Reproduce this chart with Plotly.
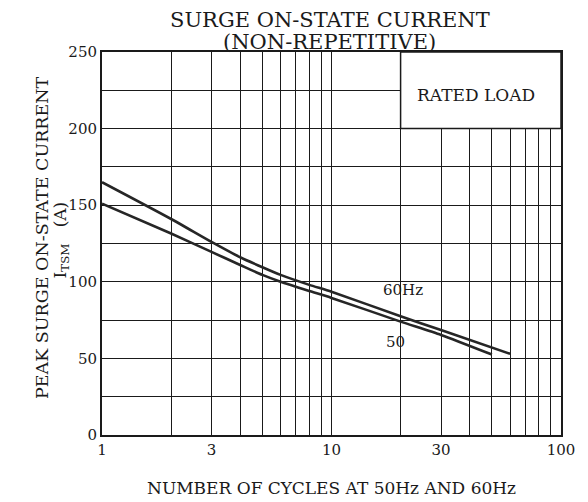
import plotly.graph_objects as go

# Data
cycles_60 = [1, 2, 3, 4, 5, 6, 8, 10, 20, 30, 60]
itsm_60 = [165, 141, 126, 116, 109.5, 104.5, 98, 93.5, 77.5, 68.5, 53]
cycles_50 = [1, 2, 3, 4, 5, 6, 8, 10, 20, 30, 50]
itsm_50 = [151, 131.5, 119.5, 111, 104.5, 100, 94, 89.5, 74, 65.3, 52.5]

x_major = [1, 3, 10, 30, 100]
x_minor = [2, 4, 5, 6, 7, 8, 9, 20, 40, 50, 60, 70, 80, 90]
y_ticks = [0, 50, 100, 150, 200, 250]

FONT = "DejaVu Serif"
INK = "#1a1a1a"

fig = go.Figure()
for xs, ys in [(cycles_60, itsm_60), (cycles_50, itsm_50)]:
    fig.add_trace(go.Scatter(x=xs, y=ys, mode="lines",
                             line=dict(color="#262626", width=2.6, shape="spline", smoothing=0.6),
                             showlegend=False, hoverinfo="skip"))

# RATED LOAD box (hides grid inside)
fig.add_shape(type="rect", xref="x", yref="y", x0=20, x1=100, y0=200, y1=250,
              fillcolor="white", line=dict(color=INK, width=1.5), layer="above")

fig.add_annotation(x=1.628, y=222, xref="x", yref="y", text="RATED LOAD",
                   showarrow=False, font=dict(family=FONT, size=17, color=INK))
fig.add_annotation(x=1.31, y=94.6, xref="x", yref="y", text="60Hz",
                   showarrow=False, font=dict(family=FONT, size=15, color=INK))
fig.add_annotation(x=1.279, y=61, xref="x", yref="y", text="50",
                   showarrow=False, font=dict(family=FONT, size=15, color=INK))

# Title (two separate lines)
fig.add_annotation(xref="paper", yref="paper", x=0.496, y=1 + 32 / 383, yanchor="middle",
                   text="SURGE ON-STATE CURRENT", showarrow=False,
                   font=dict(family=FONT, size=21, color=INK))
fig.add_annotation(xref="paper", yref="paper", x=0.496, y=1 + 10.5 / 383, yanchor="middle",
                   text="(NON-REPETITIVE)", showarrow=False,
                   font=dict(family=FONT, size=21, color=INK))

# Y axis titles
fig.add_annotation(xref="paper", yref="paper", x=0, xshift=-72, y=(435 - 238) / 383,
                   text="PEAK SURGE ON-STATE CURRENT", textangle=-90, showarrow=False,
                   font=dict(family=FONT, size=17.5, color=INK))
fig.add_annotation(xref="paper", yref="paper", x=0, xshift=-55, y=(435 - 240) / 383,
                   text="I<sub>TSM</sub>   (A)", textangle=-90, showarrow=False,
                   font=dict(family=FONT, size=17, color=INK))

# X axis title
fig.add_annotation(xref="paper", yref="paper", x=0.5, y=-(488 - 435) / 383, yanchor="middle",
                   text="NUMBER OF CYCLES AT 50Hz AND 60Hz", showarrow=False,
                   font=dict(family=FONT, size=17, color=INK))

# The page body adds an 8px offset, so the figure is 8px smaller and margins compensate
fig.update_layout(
    width=580, height=494,
    margin=dict(l=94, r=27, t=44, b=67),
    paper_bgcolor="white", plot_bgcolor="white",
    font=dict(family=FONT, color=INK),
    xaxis=dict(
        type="log", range=[0, 2], automargin=False,
        tickvals=x_major, ticktext=[str(v) for v in x_major],
        tickfont=dict(family=FONT, size=15, color=INK),
        showgrid=True, gridcolor=INK, gridwidth=1.2,
        minor=dict(tickvals=x_minor, showgrid=True, gridcolor=INK, gridwidth=1.2, ticks=""),
        showline=True, linecolor=INK, linewidth=2, mirror=True,
        ticks="", zeroline=False,
    ),
    yaxis=dict(
        range=[0, 250], tickvals=y_ticks, automargin=False,
        tickfont=dict(family=FONT, size=15, color=INK),
        showgrid=True, gridcolor=INK, gridwidth=1.2,
        minor=dict(dtick=25, showgrid=True, gridcolor=INK, gridwidth=1.2, ticks=""),
        showline=True, linecolor=INK, linewidth=2, mirror=True,
        ticks="", zeroline=False, ticklabelstandoff=0,
    ),
)

fig.write_html("out.html")
